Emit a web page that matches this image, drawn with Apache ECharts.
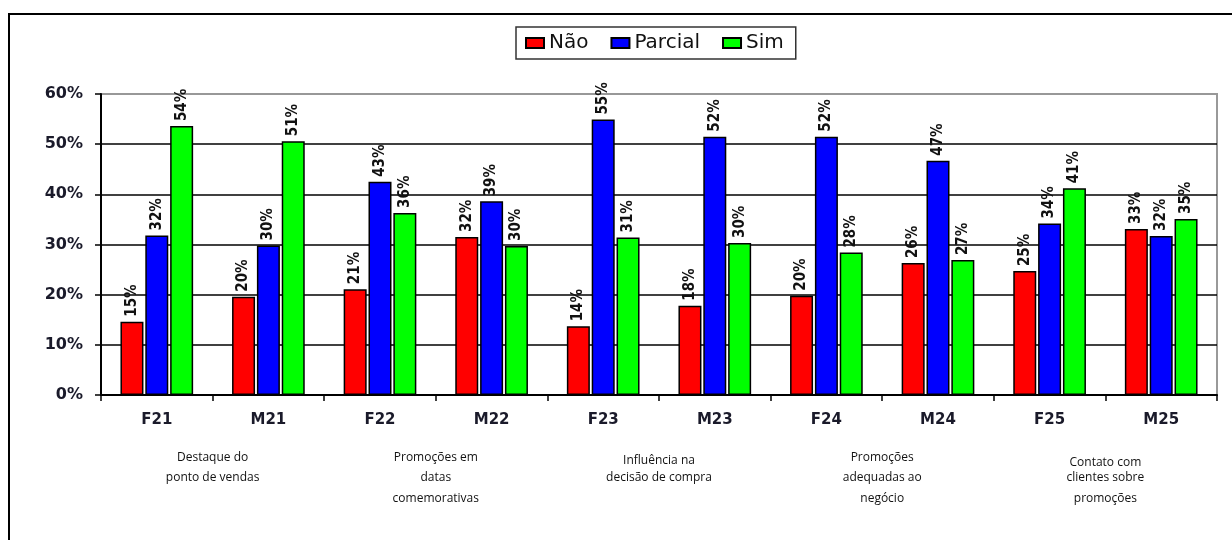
<!DOCTYPE html>
<html>
<head>
<meta charset="utf-8">
<script src="https://cdn.jsdelivr.net/npm/echarts@6/dist/echarts.min.js"></script>
<style>
  html, body { margin: 0; padding: 0; background: #fff; }
  #root { width: 1232px; height: 540px; }
  #frame { position: absolute; left: 8px; top: 13px; width: 1300px; height: 600px;
           border-left: 2px solid #000; border-top: 2px solid #000; pointer-events: none; }
</style>
</head>
<body>
<div id="root"></div>
<div id="frame"></div>
<script>
let categories = ['F21','M21','F22','M22','F23','M23','F24','M24','F25','M25'];
let nao     = [14.6, 19.6, 21.1, 31.5, 13.7, 17.8, 19.8, 26.3, 24.7, 33.1];
let parcial = [31.8, 29.8, 42.5, 38.6, 54.9, 51.5, 51.5, 46.7, 34.2, 31.7];
let sim     = [53.6, 50.6, 36.3, 29.7, 31.4, 30.3, 28.4, 26.9, 41.2, 35.1];
let groups = [
    'Destaque do\nponto de vendas',
    'Promoções em\ndatas\ncomemorativas',
    'Influência na\ndecisão de compra',
    'Promoções\nadequadas ao\nnegócio',
    'Contato com\nclientes sobre\npromoções'
];
let yTicks = [0, 10, 20, 30, 40, 50, 60];

let root = document.getElementById('root');
let myCharts = echarts.init(root);

// small vertical offsets of the group captions
let groupPad = [1, 1, 7, 0, 10];
let rich = {};
groupPad.forEach(function (p, i) {
    rich['t' + i] = { padding: [p, 0, 0, 0], lineHeight: 20.5, fontSize: 12, fontFamily: 'Open Sans', color: '#111' };
    rich['l' + i] = { lineHeight: 20.5, fontSize: 12, fontFamily: 'Open Sans', color: '#111' };
});

let barLabel = {
    show: true,
    position: 'top',
    rotate: 90,
    align: 'left',
    verticalAlign: 'middle',
    distance: 5,
    fontFamily: 'DejaVu Sans Condensed',
    fontWeight: 'bold',
    fontSize: 15,
    color: '#111',
    formatter: function (p) { return Math.round(p.value) + '%'; }
};

function bar(name, color, data) {
    return {
        name: name,
        type: 'bar',
        xAxisIndex: 0,
        barWidth: 23,
        barGap: '8%',
        itemStyle: { color: color, borderColor: '#000', borderWidth: 1.5 },
        label: barLabel,
        data: data
    };
}

let option = {
    animation: false,
    legend: {
        left: 516,
        top: 27,
        padding: [6, 12, 6, 9],
        itemWidth: 18,
        itemHeight: 10,
        itemGap: 22,
        borderColor: '#333',
        borderWidth: 1.5,
        icon: 'rect',
        textStyle: { fontFamily: 'DejaVu Sans', fontSize: 20, color: '#111', padding: [0, 0, 0, 0] },
        data: ['Não', 'Parcial', 'Sim']
    },
    grid: {
        left: 101,
        right: 15,
        top: 94,
        bottom: 145,
        show: true,
        borderColor: '#999',
        borderWidth: 2
    },
    xAxis: [
        {
            type: 'category',
            data: categories,
            axisLine: { lineStyle: { color: '#000', width: 2 } },
            axisTick: { show: true, length: 6, lineStyle: { color: '#000', width: 1.5 } },
            axisLabel: {
                margin: 18,
                fontFamily: 'DejaVu Sans',
                fontWeight: 'bold',
                fontSize: 15,
                color: '#1a1a2a'
            }
        },
        {
            type: 'category',
            position: 'bottom',
            data: groups,
            axisLine: { show: false },
            axisTick: { show: false },
            axisLabel: {
                margin: 52,
                interval: 0,
                formatter: function (v, i) {
                    let lines = v.split('\n');
                    return lines.map(function (s, k) {
                        return '{' + (k === 0 ? 't' : 'l') + i + '|' + s + '}';
                    }).join('\n');
                },
                rich: rich
            }
        }
    ],
    yAxis: {
        type: 'value',
        min: yTicks[0],
        max: yTicks[yTicks.length - 1],
        interval: 10,
        axisLine: { show: true, lineStyle: { color: '#000', width: 2 } },
        axisTick: { show: true, length: 6, lineStyle: { color: '#000', width: 1.5 } },
        axisLabel: {
            margin: 18,
            fontFamily: 'DejaVu Sans',
            fontWeight: 'bold',
            fontSize: 16,
            color: '#1a1a2a',
            formatter: '{value}%'
        },
        splitLine: {
            lineStyle: { color: ['#000', '#000', '#000', '#000', '#000', '#000', '#999'], width: 1.5 }
        }
    },
    series: [
        bar('Não', '#ff0000', nao),
        bar('Parcial', '#0000ff', parcial),
        bar('Sim', '#00ff00', sim)
    ]
};
myCharts.setOption(option);
</script>
</body>
</html>
